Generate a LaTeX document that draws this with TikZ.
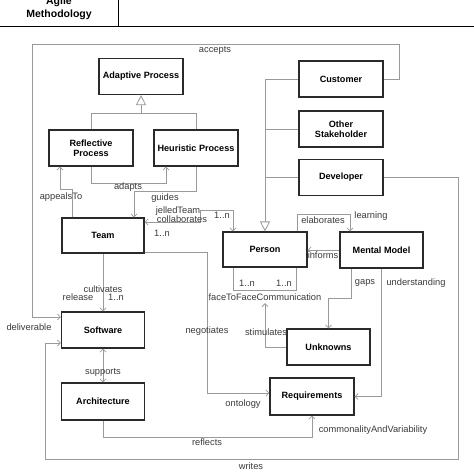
\documentclass[tikz,border=0pt]{standalone}
\usepackage{fontspec}
\setmainfont{Liberation Sans}
\usetikzlibrary{arrows.meta,calc}
\definecolor{conn}{HTML}{9A9A9A}
\definecolor{lbl}{HTML}{3A3A3A}
\definecolor{bord}{HTML}{2A2A2A}
\tikzset{
  box/.style={draw=bord,line width=1.1pt,fill=white,font=\fontsize{9.1}{10.5}\selectfont\bfseries,align=center,minimum width=84pt,minimum height=36pt,inner sep=1pt},
  lab/.style={font=\fontsize{9.3}{10}\selectfont,text=lbl,inner sep=0.5pt},
  cn/.style={draw=conn,line width=0.8pt},
  ar/.style={cn,-{Straight Barb[length=3pt,width=6pt]}},
  ar2/.style={cn,{Straight Barb[length=3pt,width=6pt]}-{Straight Barb[length=3pt,width=6pt]}},
  gen/.style={cn,-{Triangle[open,length=10pt,width=10pt,fill=white]}}
}
\begin{document}
\begin{tikzpicture}[x=1pt,y=-1pt]
\useasboundingbox (0,0) rectangle (474,474);
% header
\draw[black,line width=0.9pt] (0,26) -- (474,26);
\draw[black,line width=0.9pt] (118,0) -- (118,26);
\node[font=\fontsize{10.5}{13}\selectfont\bfseries,align=center] (hdr) at (59,8.5) {Agile\\Methodology};
% boxes
\node[box] (adapt) at (141,76.5) {Adaptive Process};
\node[box] (refl) at (91,148) {Reflective\\Process};
\node[box] (heur) at (196,148) {Heuristic Process};
\node[box,minimum width=82pt,minimum height=35pt] (team) at (103,235.5) {Team};
\node[box] (cust) at (341,79) {Customer};
\node[box] (other) at (341,129) {Other\\Stakeholder};
\node[box] (dev) at (341,177.5) {Developer};
\node[box,minimum height=35pt] (person) at (265,249.5) {Person};
\node[box,minimum width=83pt] (mental) at (381.5,250) {Mental Model};
\node[box,minimum width=83pt] (soft) at (103,330) {Software};
\node[box,minimum width=83pt] (unk) at (328.5,347) {Unknowns};
\node[box,minimum width=83pt,minimum height=37pt] (arch) at (103,401.5) {Architecture};
\node[box,minimum height=37pt] (req) at (312,396.5) {Requirements};
% generalizations
\coordinate (gA) at (141,113);
\draw[cn] (refl.north) -- (refl.north |- gA) -- (heur.north |- gA) -- (heur.north);
\draw[gen] (gA) -- (adapt.south);
\draw[gen] (cust.west) -| (person.north);
\draw[cn] (other.west) -- (other.west -| person.north);
\draw[cn] (dev.west) -- (dev.west -| person.north);
% process associations
\draw[ar] (refl.south) -- ++(0,17) -| ([xshift=-30pt]heur.south);
\draw[ar] (heur.south) -- ++(0,25) -| ([xshift=31pt]team.north);
\draw[ar] ([xshift=-31pt]team.north) -- ++(0,-28) -| ([xshift=-31pt]refl.south);
% team - person
\draw[ar2] ([yshift=13.5pt]team.east) -- (200,222) -- (200,210) -| ([xshift=-32pt]person.north);
% person - mental model
\draw[ar] ([xshift=32pt]person.north) -- ++(0,-17) -| ([xshift=-31.5pt]mental.north);
\draw[ar] (mental.west) -- (mental.west -| person.east);
% face to face
\draw[cn] ([xshift=-32pt]person.south) -- ++(0,23) -| ([xshift=31pt]person.south);
\node[lab] (f2f) at (265,297) {faceToFaceCommunication};
\draw[ar] (unk.west) -| ([yshift=-2pt]f2f.south);
\draw[ar] ([xshift=-30pt]mental.south) -- ++(0,30) -| (unk.north);
\draw[ar] (mental.south) |- (req.east);
% accepts / writes
\draw[ar] (cust.east) -- (399,79) -- (399,44) -- (32,44) -- (32,317) -- ([yshift=13pt]soft.west);
\draw[ar] (dev.east) -- (458,177.5) -- (458,459) -- (45,459) -- (45,343) -- ([yshift=-13pt]soft.west);
% team / software / architecture / requirements
\draw[ar] (team.south) -- (soft.north);
\draw[ar2] (soft.south) -- (arch.north);
\draw[ar] ([yshift=-16.5pt]team.east) -- ++(63,0) |- ([yshift=3.5pt]req.west);
\draw[ar] (arch.south) -- ++(0,17) -| (req.south);
% labels
\node[lab] (l1) at (215,50) {accepts};
\node[lab] (l2) at (29,327) {deliverable};
\node[lab] (l3) at (128,187) {adapts};
\node[lab] (l4) at (165,198) {guides};
\node[lab] (l5) at (61,197) {appealsTo};
\node[lab] (l6) at (178,211) {jelledTeam};
\node[lab] (l7) at (182,219.5) {collaborates};
\node[lab] (l8) at (162,233) {1..n};
\node[lab] (l9) at (222,215) {1..n};
\node[lab] (l10) at (323,220.5) {elaborates};
\node[lab] (l11) at (371,216) {learning};
\node[lab] (l12) at (323,255) {informs};
\node[lab] (l13) at (247,283) {1..n};
\node[lab] (l14) at (284,283) {1..n};
\node[lab] (l15) at (365,283) {gaps};
\node[lab] (l16) at (416,283) {understanding};
\node[lab] (l17) at (266,332) {stimulates};
\node[lab] (l18) at (103,289) {cultivates};
\node[lab] (l19) at (78,297) {release};
\node[lab] (l20) at (116,297) {1..n};
\node[lab] (l21) at (207,331) {negotiates};
\node[lab] (l22) at (103,372) {supports};
\node[lab] (l23) at (243,404) {ontology};
\node[lab] (l24) at (207,442) {reflects};
\node[lab] (l25) at (373,430) {commonalityAndVariability};
\node[lab] (l26) at (251,466) {writes};
\end{tikzpicture}
\end{document}
